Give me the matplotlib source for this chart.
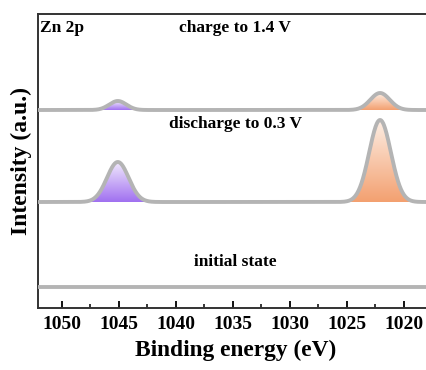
import numpy as np
import matplotlib.pyplot as plt
from matplotlib.colors import LinearSegmentedColormap

plt.rcParams['font.family'] = ['Liberation Serif', 'DejaVu Serif']
plt.rcParams['font.weight'] = 'bold'

# spectra (stacked, arbitrary intensity units)
labels = ['initial state', 'discharge to 0.3 V', 'charge to 1.4 V']
offsets = [21, 106, 198]
# Zn 2p1/2 and Zn 2p3/2 peaks: centre (eV), height, width (sigma)
p12_centre = [1045.1, 1045.1, 1045.1]
p12_height = [0.0, 40, 9]
p12_sigma = [0.95, 0.95, 0.75]
p32_centre = [1022.1, 1022.1, 1022.1]
p32_height = [0.0, 82, 17]
p32_sigma = [0.95, 0.95, 0.85]
label_y = [262, 124, 28]  # pixel rows of the annotations (from top)

xticks = [1050, 1045, 1040, 1035, 1030, 1025, 1020]

fig = plt.figure(figsize=(4.27, 3.70), dpi=100)
ax = fig.add_axes([38/427, 62/370, 394.5/427, 294/370])

x = np.linspace(1052.1, 1017.5, 1400)
purple = LinearSegmentedColormap.from_list('p', ['#a070f0', '#f1e9fd'])
orange = LinearSegmentedColormap.from_list('o', ['#f3a070', '#fdeee4'])


def gradient_fill(xs, base, ys, cmap):
    poly = ax.fill_between(xs, base, ys, color='none', lw=0)
    top = ys.max()
    grad = np.linspace(0, 1, 256).reshape(-1, 1)
    im = ax.imshow(grad, cmap=cmap, aspect='auto', origin='lower',
                   extent=[xs.max(), xs.min(), base, top], zorder=1)
    im.set_clip_path(poly.get_paths()[0], transform=ax.transData)


for i in range(3):
    g12 = p12_height[i] * np.exp(-0.5 * ((x - p12_centre[i]) / p12_sigma[i]) ** 2)
    g32 = p32_height[i] * np.exp(-0.5 * ((x - p32_centre[i]) / p32_sigma[i]) ** 2)
    y = offsets[i] + g12 + g32
    if p12_height[i] > 0:
        m = np.abs(x - p12_centre[i]) < 3.5 * p12_sigma[i]
        gradient_fill(x[m], offsets[i], offsets[i] + g12[m], purple)
    if p32_height[i] > 0:
        m = np.abs(x - p32_centre[i]) < 3.5 * p32_sigma[i]
        gradient_fill(x[m], offsets[i], offsets[i] + g32[m], orange)
    ax.plot(x, y, color='#b4b4b4', lw=2.8, zorder=3, solid_capstyle='round')
    ax.text(1034.8, 294 - (label_y[i] - 14), labels[i], ha='center', va='center',
            fontsize=12.5, fontweight='bold')

ax.text(1051.9, 294 - (28 - 14), 'Zn 2p', ha='left', va='center',
        fontsize=12.5, fontweight='bold')

ax.set_xlim(1052.1, 1017.5)
ax.set_ylim(0, 294)
ax.set_xticks(xticks)
ax.set_xticks(np.arange(1017.5, 1052.5, 2.5), minor=True)
ax.set_yticks([])
ax.tick_params(axis='x', which='major', direction='in', length=5, width=1.3,
               labelsize=14, pad=6)
ax.tick_params(axis='x', which='minor', direction='in', length=3, width=1.1)
for lab in ax.get_xticklabels():
    lab.set_fontweight('bold')
for sp in ax.spines.values():
    sp.set_linewidth(1.4)
    sp.set_color('#333333')

ax.set_xlabel('Binding energy (eV)', fontsize=16.8, fontweight='bold', labelpad=5)
ax.set_ylabel('Intensity (a.u.)', fontsize=17, fontweight='bold', labelpad=4)

fig.savefig('out.png', dpi=100)
